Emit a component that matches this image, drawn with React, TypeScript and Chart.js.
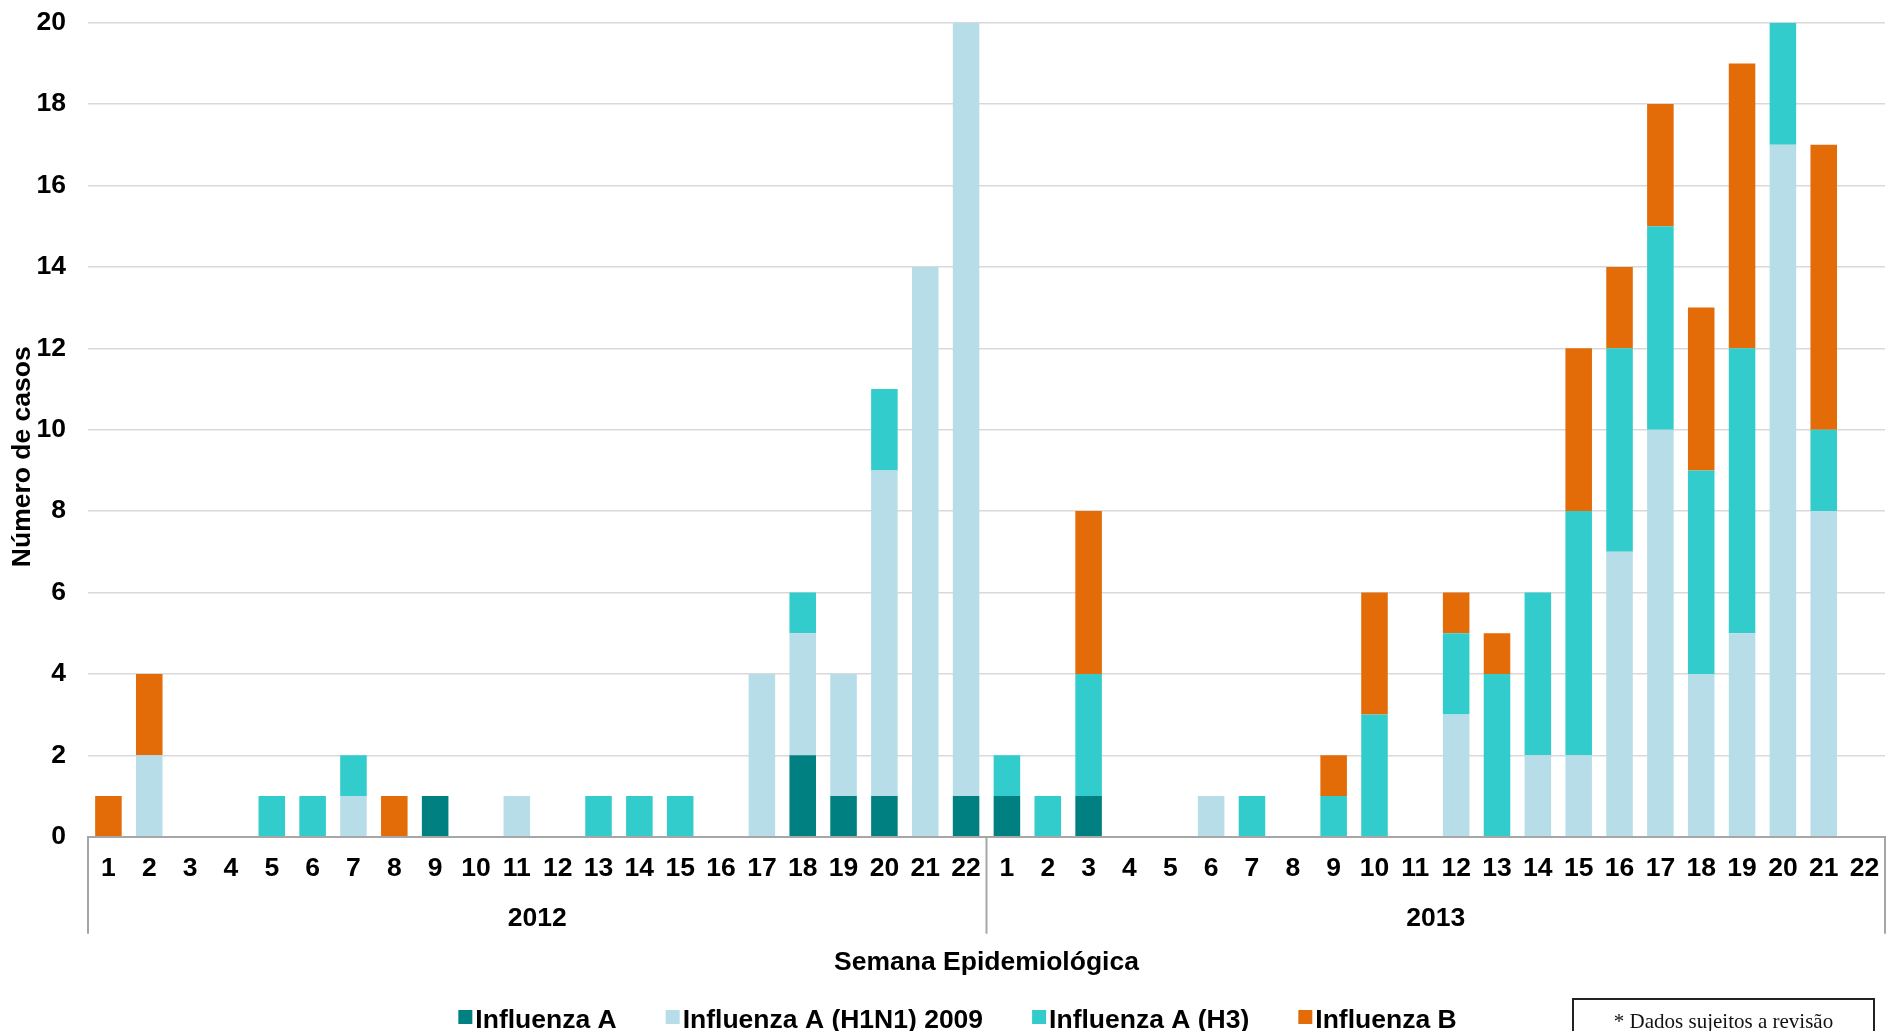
import React, { useEffect, useRef } from 'react';
import { Chart, registerables } from 'chart.js';

Chart.register(...registerables);

// ---- data ----
const weeks2012 = ['1', '2', '3', '4', '5', '6', '7', '8', '9', '10', '11', '12', '13', '14', '15', '16', '17', '18', '19', '20', '21', '22'];
const weeks2013 = ['1', '2', '3', '4', '5', '6', '7', '8', '9', '10', '11', '12', '13', '14', '15', '16', '17', '18', '19', '20', '21', '22'];
const years = ['2012', '2013'];

const influenzaA2012 = [0, 0, 0, 0, 0, 0, 0, 0, 1, 0, 0, 0, 0, 0, 0, 0, 0, 2, 1, 1, 0, 1];
const influenzaA2013 = [1, 0, 1, 0, 0, 0, 0, 0, 0, 0, 0, 0, 0, 0, 0, 0, 0, 0, 0, 0, 0, 0];
const h1n12012 = [0, 2, 0, 0, 0, 0, 1, 0, 0, 0, 1, 0, 0, 0, 0, 0, 4, 3, 3, 8, 14, 19];
const h1n12013 = [0, 0, 0, 0, 0, 1, 0, 0, 0, 0, 0, 3, 0, 2, 2, 7, 10, 4, 5, 17, 8, 0];
const h32012 = [0, 0, 0, 0, 1, 1, 1, 0, 0, 0, 0, 0, 1, 1, 1, 0, 0, 1, 0, 2, 0, 0];
const h32013 = [1, 1, 3, 0, 0, 0, 1, 0, 1, 3, 0, 2, 4, 4, 6, 5, 5, 5, 7, 3, 2, 0];
const influenzaB2012 = [1, 2, 0, 0, 0, 0, 0, 1, 0, 0, 0, 0, 0, 0, 0, 0, 0, 0, 0, 0, 0, 0];
const influenzaB2013 = [0, 0, 4, 0, 0, 0, 0, 0, 1, 3, 0, 1, 1, 0, 4, 2, 3, 4, 7, 0, 7, 0];

const seriesNames = ['Influenza A', 'Influenza A (H1N1) 2009', 'Influenza A (H3)', 'Influenza B'];
const seriesColors = ['#008080', '#B7DEE8', '#33CCCC', '#E36C09'];

const yTitle = 'Número de casos';
const xTitle = 'Semana Epidemiológica';
const noteText = '* Dados sujeitos a revisão';

const FONT = '"Liberation Sans", Arial, sans-serif';
const FS = 26.5;

const decorPlugin = {
  id: 'decor',
  afterDraw(chart: any) {
    const ctx = chart.ctx;
    const x = chart.scales.x;
    const x2 = chart.scales.x2;
    const area = chart.chartArea;
    const n = x.ticks.length;
    const half = (x.getPixelForTick(1) - x.getPixelForTick(0)) / 2;
    const split = weeks2012.length;
    const bounds = [
      x.getPixelForTick(0) - half,
      (x.getPixelForTick(split - 1) + x.getPixelForTick(split)) / 2,
      x.getPixelForTick(n - 1) + half,
    ];
    ctx.save();
    // year separators
    ctx.strokeStyle = '#A6A6A6';
    ctx.lineWidth = 2;
    bounds.forEach((b) => {
      ctx.beginPath();
      ctx.moveTo(b, area.bottom);
      ctx.lineTo(b, x2.top + 34);
      ctx.stroke();
    });
    ctx.restore();

    // y title
    ctx.save();
    ctx.fillStyle = '#000';
    ctx.font = 'bold ' + FS + 'px ' + FONT;
    ctx.translate(23, area.top + area.height / 2 + 27);
    ctx.rotate(-Math.PI / 2);
    ctx.textAlign = 'center';
    ctx.textBaseline = 'middle';
    ctx.fillText(yTitle, 0, 0);
    ctx.restore();

    // legend
    ctx.save();
    ctx.font = 'bold ' + FS + 'px ' + FONT;
    ctx.textAlign = 'left';
    ctx.textBaseline = 'alphabetic';
    const box = 14;
    const gapText = 3;
    const gapItem = 49;
    const ds = chart.data.datasets;
    const widths = ds.map((d: any) => ctx.measureText(d.label).width);
    let total = 0;
    widths.forEach((w: number, i: number) => {
      total += box + gapText + w + (i < widths.length - 1 ? gapItem : 0);
    });
    let lx = 957.5 - total / 2;
    const baseY = 1028;
    ds.forEach((d: any, i: number) => {
      ctx.fillStyle = d.backgroundColor;
      ctx.fillRect(lx, 1010, box, box);
      ctx.fillStyle = '#000';
      ctx.fillText(d.label, lx + box + gapText, baseY);
      lx += box + gapText + widths[i] + gapItem;
    });
    ctx.restore();

    // note box
    ctx.save();
    ctx.strokeStyle = '#222';
    ctx.lineWidth = 2;
    ctx.strokeRect(1573, 999, 301, 60);
    ctx.fillStyle = '#111';
    ctx.font = '21px "Liberation Serif", "Times New Roman", serif';
    ctx.textAlign = 'center';
    ctx.textBaseline = 'alphabetic';
    ctx.fillText(noteText, 1723.5, 1028);
    ctx.restore();
  },
};

export default function App() {
  const canvasRef = useRef<HTMLCanvasElement | null>(null);

  useEffect(() => {
    if (!canvasRef.current) return;
    const labels = [...weeks2012, ...weeks2013];
    const series = [
      [...influenzaA2012, ...influenzaA2013],
      [...h1n12012, ...h1n12013],
      [...h32012, ...h32013],
      [...influenzaB2012, ...influenzaB2013],
    ];
    const tickFont = { family: FONT, size: FS, weight: 'bold' };
    const chart = new Chart(canvasRef.current, {
      type: 'bar',
      data: {
        labels,
        datasets: series.map((data, i) => ({
          label: seriesNames[i],
          data,
          backgroundColor: seriesColors[i],
          borderWidth: 0,
          categoryPercentage: 1,
          barPercentage: 0.65,
        })),
      },
      options: {
        animation: false,
        responsive: true,
        maintainAspectRatio: false,
        layout: { padding: { top: 22.7, right: 1, bottom: 52.1, left: 0 } },
        plugins: {
          legend: { display: false },
          tooltip: { enabled: false },
        },
        scales: {
          x: {
            stacked: true,
            offset: true,
            weight: 0,
            afterFit: (scale: any) => {
              scale.paddingLeft = 0;
              scale.paddingRight = 0;
            },
            grid: { display: true, drawOnChartArea: false, drawTicks: false },
            border: { display: true, color: '#A6A6A6', width: 2 },
            ticks: {
              color: '#000',
              padding: 15.6,
              maxRotation: 0,
              autoSkip: false,
              font: tickFont,
            },
          },
          x2: {
            type: 'category',
            labels: years,
            position: 'bottom',
            offset: true,
            weight: 1,
            afterFit: (scale: any) => {
              scale.paddingLeft = 0;
              scale.paddingRight = 0;
            },
            grid: { display: false, drawTicks: false },
            border: { display: false },
            ticks: {
              color: '#000',
              padding: 2.8,
              maxRotation: 0,
              font: tickFont,
            },
            title: {
              display: true,
              text: xTitle,
              color: '#000',
              padding: { top: 10, bottom: 0 },
              font: tickFont,
            },
          },
          y: {
            stacked: true,
            min: 0,
            max: 20,
            afterFit: (scale: any) => {
              scale.width = 88;
              scale.paddingTop = 0;
              scale.paddingBottom = 0;
            },
            grid: { color: '#D9D9D9', lineWidth: 1.5, drawTicks: false },
            border: { display: false },
            ticks: {
              stepSize: 2,
              color: '#000',
              padding: 22,
              font: tickFont,
            },
          },
        },
      },
      plugins: [decorPlugin],
    } as any);
    return () => chart.destroy();
  }, []);

  return (
    <div style={{ position: 'fixed', left: 0, top: 0, width: 1886, height: 1031, overflow: 'hidden', background: '#fff' }}>
      <canvas ref={canvasRef} />
    </div>
  );
}
